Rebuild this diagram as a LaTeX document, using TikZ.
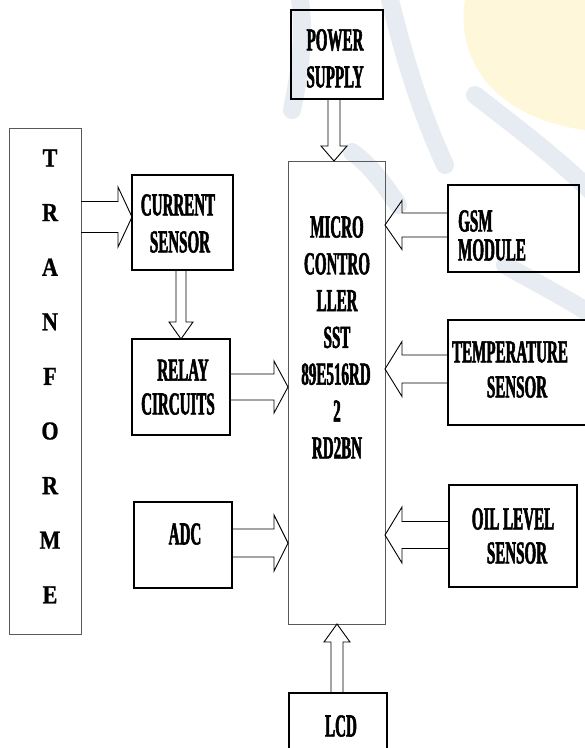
\documentclass[tikz,border=0pt]{standalone}
\usepackage{fontspec}
\setmainfont{Liberation Serif}
\newfontfamily\lblfont{Liberation Serif Bold}[FakeStretch=0.47, FakeBold=1.7]
\newfontfamily\trfont{Liberation Serif Bold}[FakeStretch=0.85, FakeBold=1]
\usetikzlibrary{calc}
\definecolor{wmblue}{RGB}{231,236,242}
\definecolor{wmyellow}{RGB}{254,247,218}
% horizontal block arrow: #1 from anchor, #2 tip anchor, #3 y centre, #4 shaft half, #5 head half, #6 signed head length
\newcommand\hblk[6]{%
  \draw[blk] (#1 |- 0,{#3-#4}) -- ($(#2 |- 0,{#3-#4})-(#6,0)$) -- ($(#2 |- 0,{#3-#5})-(#6,0)$)
    -- (#2 |- 0,#3) -- ($(#2 |- 0,{#3+#5})-(#6,0)$) -- ($(#2 |- 0,{#3+#4})-(#6,0)$) -- (#1 |- 0,{#3+#4});}
% vertical block arrow: #3 x centre
\newcommand\vblk[6]{%
  \draw[blk] (#1 -| {#3-#4},0) -- ($(#2 -| {#3-#4},0)-(0,#6)$) -- ($(#2 -| {#3-#5},0)-(0,#6)$)
    -- (#2 -| #3,0) -- ($(#2 -| {#3+#5},0)-(0,#6)$) -- ($(#2 -| {#3+#4},0)-(0,#6)$) -- (#1 -| {#3+#4},0);}
\begin{document}
\begin{tikzpicture}[x=1pt,y=-1pt,
  box/.style={draw=black, line width=1.6pt, inner sep=0pt, outer sep=0pt, rectangle},
  thinbox/.style={draw=black!65, line width=0.9pt, inner sep=0pt, outer sep=0pt, rectangle},
  lbl/.style={inner sep=0pt, font=\lblfont\fontsize{32}{36}\selectfont},
  trl/.style={inner sep=0pt, font=\trfont\fontsize{26}{30}\selectfont},
  blk/.style={draw=black, line width=0.9pt, line join=miter},
  wm/.style={draw=wmblue, line width=18pt, line cap=round}]
\useasboundingbox (0,0) rectangle (585,748);
\clip (0,0) rectangle (585,748);
\fill[white] (0,0) rectangle (585,748);

% faint watermark in the background
\fill[wmyellow] (585,0) -- (465,0) .. controls (455,60) and (495,118) .. (585,130) -- cycle;
\draw[wm] (390,0) .. controls (405,60) and (420,110) .. (445,165);
\draw[wm] (475,95) .. controls (520,130) and (560,160) .. (600,200);
\draw[wm] (300,0) .. controls (305,40) and (300,70) .. (292,110);
\draw[wm] (352,152) .. controls (370,165) and (385,185) .. (398,205);
\draw[wm] (505,265) .. controls (540,285) and (570,300) .. (600,320);

% boxes
\node[box, minimum width=92pt, minimum height=89pt] (ps) at (337,54.5) {};
\node[thinbox, minimum width=97pt, minimum height=463pt] (mc) at (336.5,392.5) {};
\node[thinbox, minimum width=72pt, minimum height=506pt] (tr) at (45,381) {};
\node[box, minimum width=101pt, minimum height=95pt] (cs) at (182.5,222.5) {};
\node[box, minimum width=98pt, minimum height=96pt] (relay) at (181,387) {};
\node[box, minimum width=98pt, minimum height=86pt] (adc) at (183,545) {};
\node[box, minimum width=131pt, minimum height=87pt] (gsm) at (513.5,228.5) {};
\node[box, minimum width=160pt, minimum height=105pt] (temp) at (528,372.5) {};
\node[box, minimum width=128pt, minimum height=102pt] (oil) at (513,536) {};
\node[box, minimum width=98pt, minimum height=67pt] (lcd) at (338,726.5) {};

% labels
\node[lbl] (ps1) at (335,40) {POWER};
\node[lbl] (ps2) at (335,77) {SUPPLY};
\node[lbl] (mc1) at (337,227) {MICRO};
\node[lbl] (mc2) at (337,263.8) {CONTRO};
\node[lbl] (mc3) at (337,300.6) {LLER};
\node[lbl] (mc4) at (337,337.4) {SST};
\node[lbl] (mc5) at (336,374.2) {89E516RD};
\node[lbl] (mc6) at (337,411) {2};
\node[lbl] (mc7) at (337,447.8) {RD2BN};
\node[lbl] (cs1) at (178,205) {CURRENT};
\node[lbl] (cs2) at (180,242) {SENSOR};
\node[lbl] (re1) at (183,370) {RELAY};
\node[lbl] (re2) at (178,404) {CIRCUITS};
\node[lbl] (ad1) at (185,534) {ADC};
\node[lbl, anchor=west] (gs1) at (458,221) {GSM};
\node[lbl, anchor=west] (gs2) at (458,250) {MODULE};
\node[lbl] (te1) at (510,352) {TEMPERATURE};
\node[lbl] (te2) at (517,387) {SENSOR};
\node[lbl] (oi1) at (513,519) {OIL LEVEL};
\node[lbl] (oi2) at (517,553) {SENSOR};
\node[lbl] (lc1) at (341,726) {LCD};
\foreach \c [count=\i from 0] in {T,R,A,N,F,O,R,M,E}
  \node[trl] (tl\i) at (50,{158+54.6*\i}) {\c};

% block arrows
\hblk{tr.east}{cs.west}{217}{15.5}{30}{14}
\vblk{cs.south}{relay.north}{181}{5}{12}{17}
\hblk{relay.east}{mc.west}{387}{13}{26}{14}
\vblk{ps.south}{mc.north}{334}{6}{13}{15}
\hblk{gsm.west}{mc.east}{225}{12}{24.5}{-17}
\hblk{temp.west}{mc.east}{369}{14}{27.5}{-17}
\hblk{oil.west}{mc.east}{535}{13.5}{28}{-17}
\hblk{adc.east}{mc.west}{543}{14}{28}{14}
\vblk{lcd.north}{mc.south}{337}{6}{13}{-18}
\end{tikzpicture}
\end{document}
